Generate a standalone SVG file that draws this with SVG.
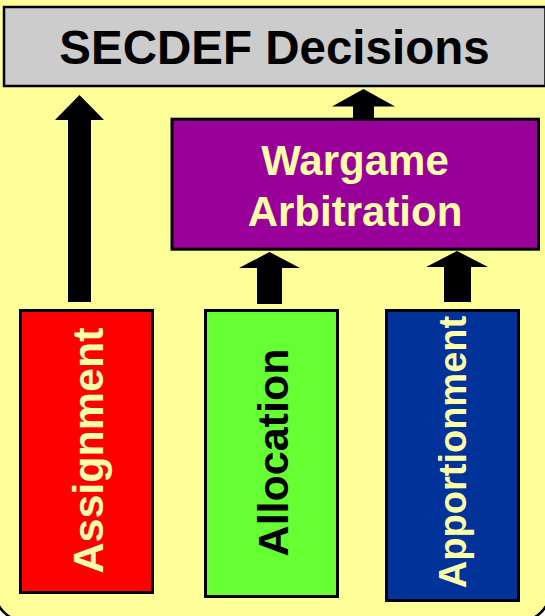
<svg xmlns="http://www.w3.org/2000/svg" width="545" height="616" viewBox="0 0 545 616">
<style>
.box{stroke:#000;stroke-width:3}
.lbl{font-family:"Liberation Sans",Arial,sans-serif;font-weight:bold;text-anchor:middle}
.cream{fill:#FFFFAA}
.arrow{fill:#000}
</style>
<rect id="panel" x="-5" y="-80" width="555" height="701" rx="30" ry="30" fill="#FFFF99" stroke="#000" stroke-width="2.5"/>
<g id="secdef">
<rect x="4" y="7" width="541.5" height="79" fill="#CCCCCC" stroke="#000" stroke-width="2.5"/>
<text class="lbl" x="274.5" y="64" font-size="47.5" fill="#000">SECDEF Decisions</text>
</g>
<g id="wargame">
<rect class="box" x="172" y="119.2" width="366.5" height="130" fill="#990099"/>
<text class="lbl cream" x="355" y="175" font-size="42">Wargame</text>
<text class="lbl cream" x="355" y="226" font-size="42">Arbitration</text>
</g>
<g id="assignment">
<rect class="box" x="20.5" y="310.5" width="132" height="282" fill="#FF0000"/>
<text class="lbl cream" transform="translate(103,450.5) rotate(-90)" font-size="43">Assignment</text>
</g>
<g id="allocation">
<rect class="box" x="205.5" y="310.5" width="132" height="286" fill="#66FF33"/>
<text class="lbl" transform="translate(288,452.5) rotate(-90)" font-size="43" fill="#000">Allocation</text>
</g>
<g id="apportionment">
<rect class="box" x="386.5" y="310.5" width="132" height="290" fill="#003399"/>
<text class="lbl cream" transform="translate(466,452) rotate(-90)" font-size="38">Apportionment</text>
</g>
<g id="connectors">
<polygon class="arrow" points="68,302 68,120 55,120 79.5,95 104,120 91,120 91,302"/>
<polygon class="arrow" points="353,118 353,106.5 332,106.5 363.5,89 395,106.5 374,106.5 374,118"/>
<polygon class="arrow" points="257,304 257,268 239,268 269.5,252 300,268 282,268 282,304"/>
<polygon class="arrow" points="444,302 444,267 426,267 457,251 488,267 471,267 471,302"/>
</g>
</svg>
